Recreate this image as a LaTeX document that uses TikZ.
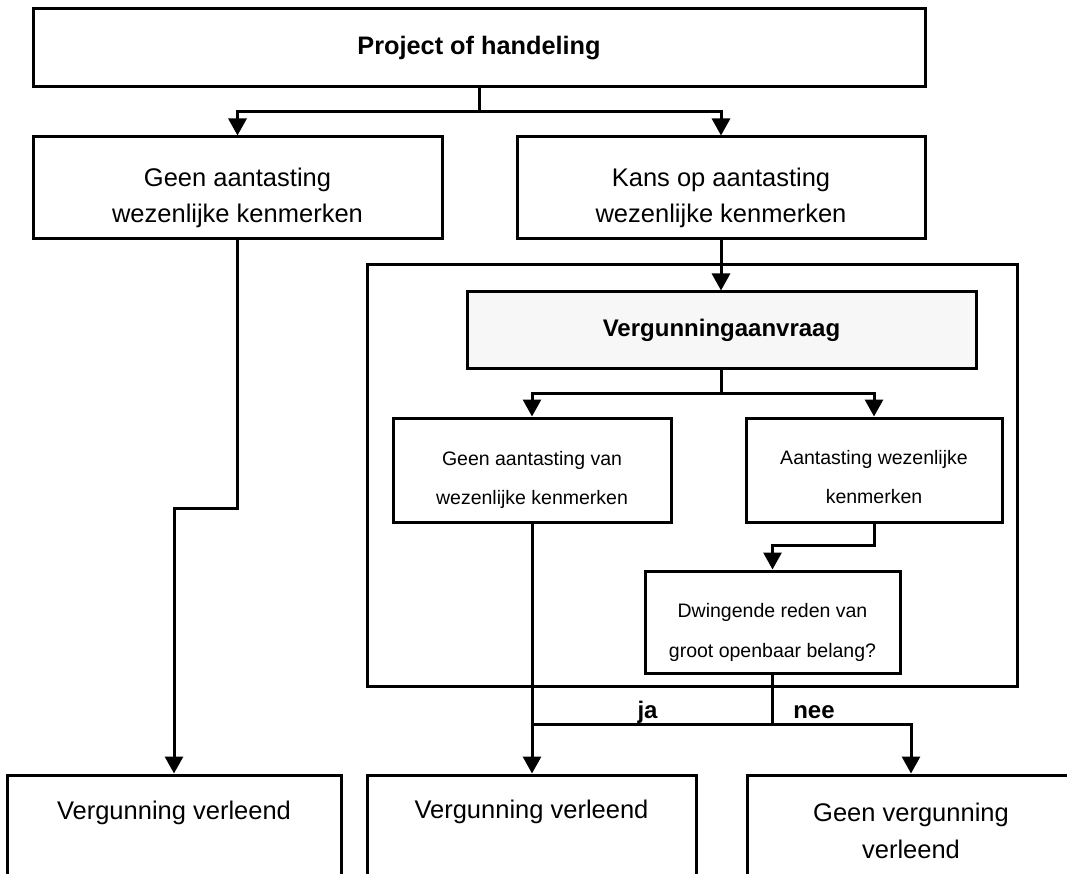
\documentclass[tikz,border=0pt]{standalone}
\usepackage{fontspec}
\setmainfont{Liberation Sans}
\usetikzlibrary{arrows.meta}
\begin{document}
\begin{tikzpicture}[x=1pt,y=-1pt,
  box/.style={draw, line width=3pt, rectangle, inner sep=0pt},
  wire/.style={line width=3pt, line cap=rect},
  arr/.style={line width=3pt, -{Triangle[width=18pt,length=17pt]}},
  ttl/.style={font=\fontsize{25.3}{30}\selectfont\bfseries},
  big/.style={font=\fontsize{25.5}{36}\selectfont, align=center, inner sep=0pt},
  small/.style={font=\fontsize{19.5}{39}\selectfont, align=center, inner sep=0pt},
  lab/.style={font=\fontsize{24}{28}\selectfont\bfseries, inner sep=0pt, anchor=base}]

\useasboundingbox (0,0) rectangle (1067,874);
\clip (0,0) rectangle (1067,874);

% top
\node[box, ttl, minimum width=892pt, minimum height=78pt] (top) at (479,48) {Project of handeling};

% second row
\node[box, minimum width=409pt, minimum height=102pt] (geen) at (237.5,188) {};
\node[big] (geenT) at (237.5,198) {Geen aantasting\\wezenlijke kenmerken};
\node[box, minimum width=408pt, minimum height=102pt] (kans) at (721,188) {};
\node[big] (kansT) at (721,198) {Kans op aantasting\\wezenlijke kenmerken};

% container
\node[box, minimum width=650pt, minimum height=421pt] (cont) at (692,475.5) {};

\node[box, fill=black!3, minimum width=509pt, minimum height=76pt,
      font=\fontsize{24}{28}\selectfont\bfseries] (verg) at (721.5,330) {Vergunningaanvraag};

\node[box, minimum width=278pt, minimum height=104pt] (inl) at (532,470) {};
\node[small] (inlT) at (532,479.5) {Geen aantasting van\\wezenlijke kenmerken};
\node[box, minimum width=256pt, minimum height=104pt] (inr) at (874,470) {};
\node[small] (inrT) at (874,477.5) {Aantasting wezenlijke\\kenmerken};

\node[box, minimum width=255pt, minimum height=102pt] (dw) at (772.5,622) {};
\node[small, font=\fontsize{19.5}{40}\selectfont] (dwT) at (772.5,632) {Dwingende reden van\\groot openbaar belang?};

% bottom row
\node[box, minimum width=334pt, minimum height=130pt] (b1) at (174,840) {};
\node[big, anchor=base] (b1T) at (174,819.5) {Vergunning verleend};
\node[box, minimum width=329pt, minimum height=130pt] (b2) at (531.5,840) {};
\node[big, anchor=base] (b2T) at (531.5,818.5) {Vergunning verleend};
\node[box, minimum width=328pt, minimum height=130pt] (b3) at (911,840) {};
\node[big, font=\fontsize{25.5}{37}\selectfont] (b3T) at (911,831) {Geen vergunning\\verleend};

% connectors
\coordinate (j1) at (479,112);
\draw[wire] (top.south) -- (j1);
\draw[arr] (j1) -| (geen.north);
\draw[arr] (j1) -| (kans.north);

\coordinate (c1) at (174,508);
\draw[arr] (geen.south) |- (c1) -- (b1.north);

\draw[arr] (kans.south) -- (kans.south |- verg.north);

\coordinate (j2) at (721.5,393);
\draw[wire] (verg.south) -- (j2);
\draw[arr] (j2) -| (inl.north);
\draw[arr] (j2) -| (inr.north);

\coordinate (c2) at (874,545);
\draw[arr] (inr.south) -- (c2) -| (dw.north);

\draw[arr] (inl.south) -- (inl.south |- b2.north);

\coordinate (j3) at (772.5,724);
\draw[wire] (dw.south) -- (j3) -- (inl.south |- j3);
\draw[arr] (j3) -| (b3.north);

\node[lab] (ja) at (647.5,718) {ja};
\node[lab] (nee) at (814,718) {nee};
\end{tikzpicture}
\end{document}
